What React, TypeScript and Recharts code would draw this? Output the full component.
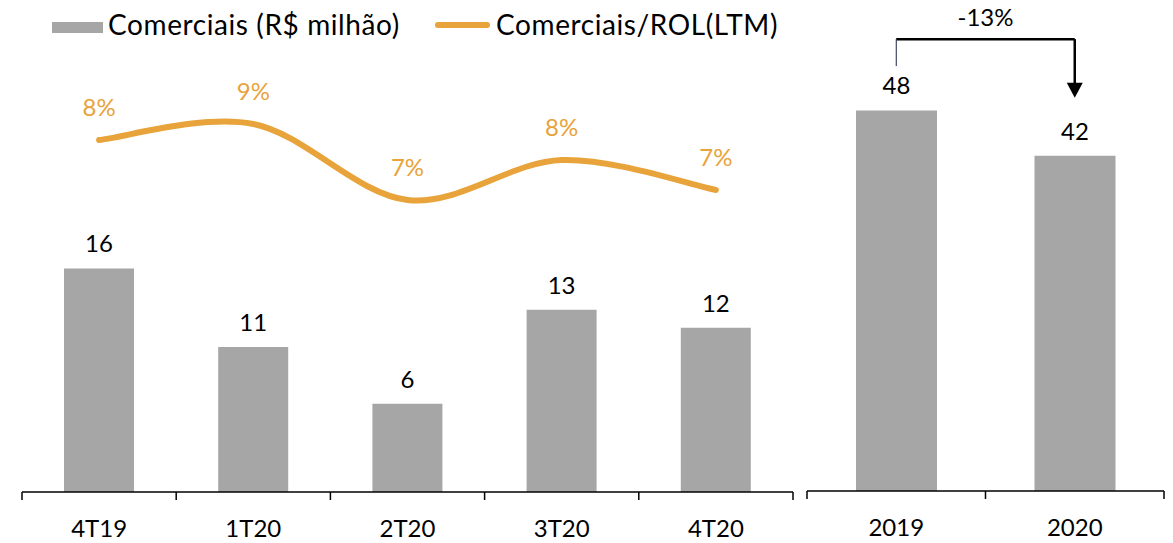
import React from "react";
import {
  ComposedChart,
  Bar,
  Line,
  XAxis,
  YAxis,
  LabelList,
  ReferenceLine,
} from "recharts";

// trimestral
const quarters = ["4T19", "1T20", "2T20", "3T20", "4T20"];
const comerciaisTri = [16.2, 10.5, 6.4, 13.2, 11.9];
const comerciaisRol = [8.2, 8.6, 6.7, 7.7, 6.95];

// anual
const years = ["2019", "2020"];
const comerciaisAno = [48.0, 42.3];
const variacaoAno = "-13%";

const GRAY = "#A6A6A6";
const ORANGE = "#E8A33A";
const FONT = "Lato, 'Open Sans', sans-serif";
const TICK_GAP = 28;

const quarterData = quarters.map((q, i) => ({
  q,
  valor: comerciaisTri[i],
  rol: comerciaisRol[i],
}));

const yearData = years.map((y, i) => ({ y, valor: comerciaisAno[i] }));

// Excel-like smoothed line (Catmull-Rom through the points)
const smoothCurve = (context: any) => {
  let pts: number[][] = [];
  return {
    areaStart() {},
    areaEnd() {},
    lineStart() {
      pts = [];
    },
    point(x: number, y: number) {
      pts.push([+x, +y]);
    },
    lineEnd() {
      if (!pts.length) return;
      context.moveTo(pts[0][0], pts[0][1]);
      for (let i = 0; i < pts.length - 1; i++) {
        const p0 = pts[i - 1] || pts[i];
        const p1 = pts[i];
        const p2 = pts[i + 1];
        const p3 = pts[i + 2] || p2;
        context.bezierCurveTo(
          p1[0] + (p2[0] - p0[0]) / 6,
          p1[1] + (p2[1] - p0[1]) / 6,
          p2[0] - (p3[0] - p1[0]) / 6,
          p2[1] - (p3[1] - p1[1]) / 6,
          p2[0],
          p2[1]
        );
      }
    },
  };
};

// category label + tick marks on the band edges (Excel style)
const EdgeTick = (props: any) => {
  const { x, y, payload, index, visibleTicksCount, band } = props;
  const axisY = y - TICK_GAP;
  const left = x - band / 2;
  const right = x + band / 2;
  return (
    <g>
      <line x1={left} x2={left} y1={axisY} y2={axisY + 8} stroke="#000" strokeWidth={1.5} />
      {index === visibleTicksCount - 1 && (
        <line x1={right} x2={right} y1={axisY} y2={axisY + 8} stroke="#000" strokeWidth={1.5} />
      )}
      <text x={x} y={y} dy="0.71em" textAnchor="middle" fill="#000" fontSize={24}>
        {payload.value}
      </text>
    </g>
  );
};

const ArrowDown = (props: any) => {
  const { x1, y1, x2, y2 } = props;
  const top = Math.min(y1, y2);
  const tip = Math.max(y1, y2);
  const head = 15;
  return (
    <g>
      <line x1={x1} y1={top} x2={x2} y2={tip - head + 1} stroke="#000" strokeWidth={2.5} />
      <polygon
        points={`${x2 - 8},${tip - head} ${x2 + 8},${tip - head} ${x2},${tip}`}
        fill="#000"
      />
    </g>
  );
};

const legendText: React.CSSProperties = {
  position: "absolute",
  top: 10,
  fontSize: 28,
  lineHeight: "28px",
  letterSpacing: 0.6,
  color: "#000",
  whiteSpace: "nowrap",
};

const Legenda = () => (
  <div style={{ position: "absolute", left: 0, top: 0, width: 800, height: 50 }}>
    <div style={{ position: "absolute", left: 52, top: 22, width: 51, height: 11, background: GRAY }} />
    <div style={{ ...legendText, left: 108 }}>Comerciais (R$ milhão)</div>
    <div
      style={{
        position: "absolute",
        left: 435,
        top: 22,
        width: 55,
        height: 6,
        borderRadius: 3,
        background: ORANGE,
      }}
    />
    <div style={{ ...legendText, left: 496 }}>Comerciais/ROL(LTM)</div>
  </div>
);

export default function App() {
  const leftBand = (800 - 22 - 7) / quarters.length;
  const rightBand = (373 - 7 - 9) / years.length;

  return (
    <div
      style={{
        position: "absolute",
        left: 0,
        top: 0,
        width: 1173,
        height: 543,
        background: "#fff",
        fontFamily: FONT,
      }}
    >
      <Legenda />

      <div style={{ position: "absolute", left: 0, top: 0 }}>
        <ComposedChart
          width={800}
          height={543}
          data={quarterData}
          margin={{ top: 60, right: 7, bottom: 0, left: 22 }}
        >
          <XAxis
            dataKey="q"
            height={51}
            axisLine={{ stroke: "#000", strokeWidth: 1.5 }}
            tickLine={false}
            tickSize={0}
            tickMargin={TICK_GAP}
            interval={0}
            tick={(p: any) => <EdgeTick {...p} band={leftBand} />}
          />
          <YAxis yAxisId="bar" hide domain={[0, 31.3]} />
          <YAxis yAxisId="pct" hide domain={[-0.6, 10.2]} orientation="right" />
          <Bar yAxisId="bar" dataKey="valor" fill={GRAY} barSize={70} isAnimationActive={false}>
            <LabelList
              dataKey="valor"
              position="top"
              offset={16}
              formatter={(v: any) => Math.round(Number(v))}
              style={{ fill: "#000", fontSize: 24 }}
            />
          </Bar>
          <Line
            yAxisId="pct"
            type={smoothCurve as any}
            dataKey="rol"
            stroke={ORANGE}
            strokeWidth={6}
            strokeLinecap="round"
            dot={false}
            activeDot={false}
            isAnimationActive={false}
          >
            <LabelList
              dataKey="rol"
              position="top"
              offset={24}
              formatter={(v: any) => `${Math.round(Number(v))}%`}
              style={{ fill: ORANGE, fontSize: 24 }}
            />
          </Line>
        </ComposedChart>
      </div>

      <div style={{ position: "absolute", left: 800, top: 0 }}>
        <ComposedChart
          width={373}
          height={543}
          data={yearData}
          margin={{ top: 55, right: 9, bottom: 0, left: 7 }}
        >
          <XAxis
            dataKey="y"
            height={52}
            axisLine={{ stroke: "#000", strokeWidth: 1.5 }}
            tickLine={false}
            tickSize={0}
            tickMargin={TICK_GAP}
            interval={0}
            tick={(p: any) => <EdgeTick {...p} band={rightBand} />}
          />
          <YAxis hide domain={[0, 55]} />
          <Bar dataKey="valor" fill={GRAY} barSize={81} isAnimationActive={false}>
            <LabelList
              dataKey="valor"
              position="top"
              offset={16}
              formatter={(v: any) => Math.round(Number(v))}
              style={{ fill: "#000", fontSize: 24 }}
            />
          </Bar>
          <ReferenceLine
            segment={[
              { x: years[0], y: 57 },
              { x: years[1], y: 57 },
            ]}
            ifOverflow="visible"
            stroke="#000"
            strokeWidth={2.5}
            label={{ value: variacaoAno, position: "top", offset: 13, fill: "#000", fontSize: 24 }}
          />
          <ReferenceLine
            segment={[
              { x: years[0], y: 57 },
              { x: years[0], y: 53.6 },
            ]}
            ifOverflow="visible"
            stroke="#1a2440"
            strokeWidth={1}
          />
          <ReferenceLine
            segment={[
              { x: years[1], y: 57 },
              { x: years[1], y: 49.6 },
            ]}
            ifOverflow="visible"
            shape={ArrowDown}
          />
        </ComposedChart>
      </div>
    </div>
  );
}
